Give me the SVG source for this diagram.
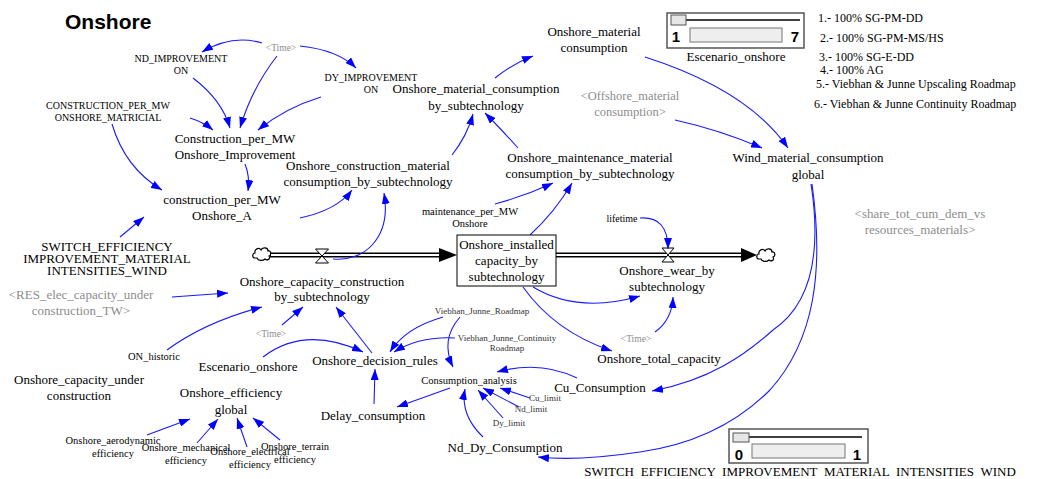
<svg xmlns="http://www.w3.org/2000/svg" width="1043" height="479" viewBox="0 0 1043 479">
  <style>
    text { font-family: "Liberation Serif", "Times New Roman", serif; fill: #000; }
    .n { font-size: 13px; text-anchor: middle; }
    .s { font-size: 10px; text-anchor: middle; }
    .t { font-size: 9px; text-anchor: middle; fill: #333; }
    .g { font-size: 13px; text-anchor: middle; fill: #8c8c8c; }
    .gt { font-size: 9.5px; text-anchor: middle; fill: #8c8c8c; }
    .lg { font-size: 12px; }
    .num { font-family: "Liberation Sans", Arial, sans-serif; font-weight: bold; font-size: 15px; text-anchor: middle; }
    .c { fill: none; stroke: #1a1aff; stroke-width: 1.1; marker-end: url(#ah); }
    .pipe { fill: none; stroke: #000; stroke-width: 5; }
    .pipein { fill: none; stroke: #fff; stroke-width: 2; }
    .valve { fill: #fff; stroke: #000; stroke-width: 1; }
    .cloud { fill: #fff; stroke: #000; stroke-width: 1.2; }
  </style>
  <defs>
    <marker id="ah" viewBox="0 0 11 8" refX="11" refY="4" markerWidth="11" markerHeight="8" markerUnits="userSpaceOnUse" orient="auto">
      <path d="M0,0 L11,4 L0,8 Z" fill="#0000ff"/>
    </marker>
    <path id="cloudShape" d="M-7,4 C-10,4 -10,-1 -7,-1 C-8,-5 -3,-7 -1,-4 C0,-7 6,-7 6,-3 C9,-4 10,1 7,2 C9,5 5,7 3,5 C1,7 -4,7 -5,4 Z"/>
  </defs>

  <rect width="1043" height="479" fill="#fff"/>

  <text x="65" y="29" font-family="Liberation Sans, Arial, sans-serif" font-weight="bold" font-size="21" style="font-family:'Liberation Sans',Arial,sans-serif">Onshore</text>

  <!-- stock and flow pipes -->
  <g id="flows">
    <use href="#cloudShape" class="cloud" x="262" y="254"/>
    <path class="pipe" d="M270,255 H441"/>
    <path class="pipein" d="M271,255 H441"/>
    <polygon points="439,248 457,255 439,262" fill="#000"/>
    <polygon class="valve" points="315.5,249 328.5,249 315.5,263 328.5,263"/>

    <path class="pipe" d="M556,255 H743"/>
    <path class="pipein" d="M556,255 H743"/>
    <polygon points="741,248 757,255 741,262" fill="#000"/>
    <use href="#cloudShape" class="cloud" x="766" y="255"/>
    <polygon class="valve" points="662,248 674,248 662,262 674,262"/>
  </g>

  <!-- connectors -->
  <g id="connectors">
    <path class="c" d="M262,43 Q232,34 202,52"/>
    <path class="c" d="M300,46 Q338,50 356,68"/>
    <path class="c" d="M277,56 Q252,88 240,128"/>
    <path class="c" d="M193,78 Q222,100 230,128"/>
    <path class="c" d="M321,97 Q285,108 258,130"/>
    <path class="c" d="M190,118 Q203,122 213,130"/>
    <path class="c" d="M112,124 Q125,168 162,190"/>
    <path class="c" d="M245,164 Q250,176 248,191"/>
    <path class="c" d="M120,237 L144,217"/>
    <path class="c" d="M300,218 Q337,210 352,190"/>
    <path class="c" d="M333,259 C362,262 392,240 384,193"/>
    <path class="c" d="M452,155 Q467,136 473,114"/>
    <path class="c" d="M518,148 Q500,128 485,113"/>
    <path class="c" d="M495,78 Q512,64 533,56"/>
    <path class="c" d="M645,57 Q748,90 788,148"/>
    <path class="c" d="M675,120 Q720,130 762,148"/>
    <path class="c" d="M495,204 Q525,196 553,183"/>
    <path class="c" d="M530,235 Q555,212 572,183"/>
    <path class="c" d="M640,218 Q668,216 668,249"/>
    <path class="c" d="M811,184 C822,255 810,305 773,330 C745,355 710,380 652,391"/>
    <path class="c" d="M812,184 C824,270 815,340 770,390 C735,425 690,445 640,452 C600,458 565,460 538,457"/>
    <path class="c" d="M533,287 Q578,314 640,296"/>
    <path class="c" d="M523,287 Q555,332 612,351"/>
    <path class="c" d="M655,332 Q672,320 673,297"/>
    <path class="c" d="M577,378 Q540,360 497,372"/>
    <path class="c" d="M530,398 L500,388"/>
    <path class="c" d="M519,407 L483,388"/>
    <path class="c" d="M503,418 L478,390"/>
    <path class="c" d="M483,437 Q460,415 465,389"/>
    <path class="c" d="M450,388 L397,407"/>
    <path class="c" d="M374,404 L375,369"/>
    <path class="c" d="M443,317 Q405,328 390,352"/>
    <path class="c" d="M460,317 Q440,340 453,367"/>
    <path class="c" d="M455,338 Q420,336 394,352"/>
    <path class="c" d="M263,357 Q305,325 363,352"/>
    <path class="c" d="M372,353 L336,307"/>
    <path class="c" d="M282,325 L303,307"/>
    <path class="c" d="M167,350 Q205,322 262,307"/>
    <path class="c" d="M172,297 L228,293"/>
    <path class="c" d="M147,435 L190,419"/>
    <path class="c" d="M197,443 L218,419"/>
    <path class="c" d="M247,447 L237,418"/>
    <path class="c" d="M280,440 L253,418"/>
  </g>

  <!-- variables -->
  <g id="time_top"><text class="gt" x="281" y="51">&lt;Time&gt;</text></g>
  <g id="nd_improvement_on"><text class="s" x="181" y="62">ND_IMPROVEMENT</text><text class="s" x="181" y="74">ON</text></g>
  <g id="dy_improvement_on"><text class="s" x="371" y="81">DY_IMPROVEMENT</text><text class="s" x="371" y="93">ON</text></g>
  <g id="construction_matricial"><text class="s" x="108" y="109">CONSTRUCTION_PER_MW</text><text class="s" x="108" y="121">ONSHORE_MATRICIAL</text></g>
  <g id="construction_improvement"><text class="n" x="235" y="143">Construction_per_MW</text><text class="n" x="235" y="159">Onshore_Improvement</text></g>
  <g id="construction_a"><text class="n" x="222" y="204">construction_per_MW</text><text class="n" x="222" y="220">Onshore_A</text></g>
  <g id="construction_material"><text class="n" x="368" y="170">Onshore_construction_material</text><text class="n" x="368" y="186">consumption_by_subtechnology</text></g>
  <g id="material_by_sub"><text class="n" x="476" y="93">Onshore_material_consumption</text><text class="n" x="476" y="110">by_subtechnology</text></g>
  <g id="material_consumption"><text class="n" x="594" y="36">Onshore_material</text><text class="n" x="594" y="52">consumption</text></g>
  <g id="offshore_material"><text class="g" x="630" y="100" style="font-size:12.5px">&lt;Offshore_material</text><text class="g" x="630" y="116" style="font-size:12.5px">consumption&gt;</text></g>
  <g id="maintenance_material"><text class="n" x="590" y="162">Onshore_maintenance_material</text><text class="n" x="590" y="178">consumption_by_subtechnology</text></g>
  <g id="wind_material"><text class="n" x="808" y="162">Wind_material_consumption</text><text class="n" x="808" y="179">global</text></g>
  <g id="share_tot"><text class="g" x="920" y="218">&lt;share_tot_cum_dem_vs</text><text class="g" x="920" y="234">resources_materials&gt;</text></g>
  <g id="switch_efficiency"><text class="n" x="107" y="251">SWITCH_EFFICIENCY</text><text class="n" x="107" y="263">IMPROVEMENT_MATERIAL</text><text class="n" x="107" y="275">INTENSITIES_WIND</text></g>
  <g id="res_elec"><text class="g" x="81" y="299">&lt;RES_elec_capacity_under</text><text class="g" x="81" y="315">construction_TW&gt;</text></g>
  <g id="maintenance_per_mw"><text class="s" x="470" y="215" style="font-size:10.5px">maintenance_per_MW</text><text class="s" x="470" y="227" style="font-size:10.5px">Onshore</text></g>
  <g id="lifetime"><text class="s" x="622" y="222">lifetime</text></g>
  <g id="installed_capacity">
    <rect x="457" y="235" width="99" height="51" fill="#fff" stroke="#000" stroke-width="1"/>
    <text class="n" x="506.5" y="249">Onshore_installed</text><text class="n" x="506.5" y="265">capacity_by</text><text class="n" x="506.5" y="281">subtechnology</text>
  </g>
  <g id="capacity_construction"><text class="n" x="322" y="286">Onshore_capacity_construction</text><text class="n" x="322" y="301">by_subtechnology</text></g>
  <g id="wear"><text class="n" x="667" y="275">Onshore_wear_by</text><text class="n" x="667" y="291">subtechnology</text></g>
  <g id="time_mid"><text class="gt" x="271" y="337">&lt;Time&gt;</text></g>
  <g id="on_historic"><text class="s" x="154" y="360" style="font-size:10.5px">ON_historic</text></g>
  <g id="escenario_mid"><text class="n" x="248" y="371">Escenario_onshore</text></g>
  <g id="decision_rules"><text class="n" x="375" y="365">Onshore_decision_rules</text></g>
  <g id="capacity_under"><text class="n" x="79" y="384">Onshore_capacity_under</text><text class="n" x="79" y="400">construction</text></g>
  <g id="efficiency_global"><text class="n" x="231" y="397">Onshore_efficiency</text><text class="n" x="231" y="414">global</text></g>
  <g id="aerodynamic"><text class="s" x="113" y="444" style="font-size:10.5px">Onshore_aerodynamic</text><text class="s" x="113" y="457" style="font-size:10.5px">efficiency</text></g>
  <g id="mechanical"><text class="s" x="186" y="451" style="font-size:10.5px">Onshore_mechanical</text><text class="s" x="186" y="464" style="font-size:10.5px">efficiency</text></g>
  <g id="electrical"><text class="s" x="250" y="455" style="font-size:10.5px">Onshore_electrical</text><text class="s" x="250" y="468" style="font-size:10.5px">efficiency</text></g>
  <g id="terrain"><text class="s" x="295" y="450" style="font-size:10.5px">Onshore_terrain</text><text class="s" x="295" y="463" style="font-size:10.5px">efficiency</text></g>
  <g id="delay_consumption"><text class="n" x="373" y="420">Delay_consumption</text></g>
  <g id="viebhan_roadmap"><text class="t" x="482" y="314">Viebhan_Junne_Roadmap</text></g>
  <g id="viebhan_continuity"><text class="t" x="507" y="341">Viebhan_Junne_Continuity</text><text class="t" x="507" y="351">Roadmap</text></g>
  <g id="consumption_analysis"><text class="s" x="469" y="384" style="font-size:10.5px">Consumption_analysis</text></g>
  <g id="cu_limit"><text class="t" x="545" y="401">Cu_limit</text></g>
  <g id="nd_limit"><text class="t" x="531" y="412">Nd_limit</text></g>
  <g id="dy_limit"><text class="t" x="509" y="426">Dy_limit</text></g>
  <g id="cu_consumption"><text class="n" x="600" y="392">Cu_Consumption</text></g>
  <g id="total_capacity"><text class="n" x="659" y="363">Onshore_total_capacity</text></g>
  <g id="time_right"><text class="gt" x="636" y="342">&lt;Time&gt;</text></g>
  <g id="nd_dy_consumption"><text class="n" x="505" y="452">Nd_Dy_Consumption</text></g>

  <!-- scenario slider -->
  <g id="escenario_slider">
    <rect x="667" y="13" width="137" height="35" fill="#fff" stroke="#555" stroke-width="1.5"/>
    <line x1="686" y1="20" x2="800" y2="20" stroke="#000" stroke-width="1.5"/>
    <rect x="671" y="15" width="15" height="10" fill="#e6e6e6" stroke="#555"/>
    <rect x="690" y="28" width="92" height="14" fill="#eee" stroke="#777"/>
    <text class="num" x="676" y="42">1</text>
    <text class="num" x="795" y="42">7</text>
    <text class="n" x="736" y="61">Escenario_onshore</text>
  </g>
  <g id="legend">
    <text class="lg" x="818" y="22">1.- 100% SG-PM-DD</text>
    <text class="lg" x="820" y="42">2.- 100% SG-PM-MS/HS</text>
    <text class="lg" x="819" y="61">3.- 100% SG-E-DD</text>
    <text class="lg" x="820" y="74">4.- 100% AG</text>
    <text class="lg" x="816" y="88">5.- Viebhan &amp; Junne Upscaling Roadmap</text>
    <text class="lg" x="814" y="108">6.- Viebhan &amp; Junne Continuity Roadmap</text>
  </g>

  <!-- switch slider -->
  <g id="switch_slider">
    <rect x="729" y="429" width="139" height="34" fill="#fff" stroke="#555" stroke-width="1.5"/>
    <line x1="749" y1="437" x2="862" y2="437" stroke="#000" stroke-width="1.5"/>
    <rect x="733" y="433" width="16" height="9" fill="#e6e6e6" stroke="#555"/>
    <rect x="752" y="444" width="93" height="14" fill="#eee" stroke="#777"/>
    <text class="num" x="739" y="460">0</text>
    <text class="num" x="857" y="460">1</text>
    <text class="n" x="800" y="476" word-spacing="3.5">SWITCH EFFICIENCY IMPROVEMENT MATERIAL INTENSITIES WIND</text>
  </g>
</svg>
